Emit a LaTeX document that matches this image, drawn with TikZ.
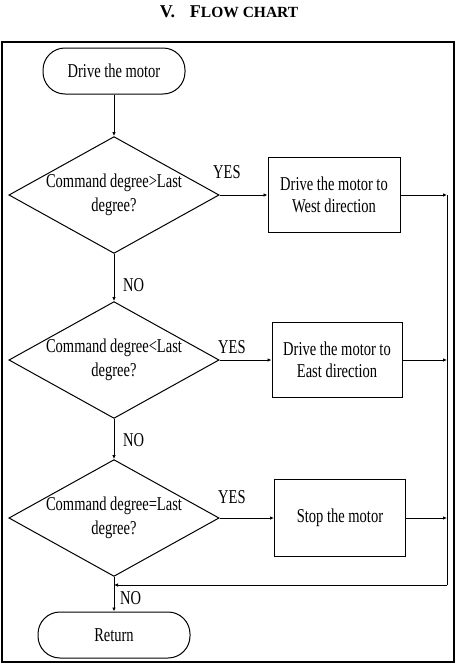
\documentclass[tikz,border=0pt]{standalone}
\usepackage{fontspec}
\setmainfont{Liberation Serif}
\newfontfamily\chartfont[FakeStretch=0.74]{Liberation Serif}
\usetikzlibrary{shapes.geometric, arrows.meta, positioning, calc}
\tikzset{
    terminal/.style={
        rectangle, draw=black, rounded corners=22pt,
        minimum width=142pt, minimum height=46pt,
        text centered,
        font=\chartfont\fontsize{19.6}{22}\selectfont,
        line width=1pt,
    },
    decision/.style={
        diamond, draw=black, aspect=1.8, inner sep=0pt,
        minimum width=210pt, minimum height=116pt,
        align=center,
        font=\chartfont\fontsize{19.6}{23.5}\selectfont,
        line width=1pt,
    },
    process/.style={
        rectangle, draw=black,
        minimum width=132pt, minimum height=75pt,
        align=center,
        font=\chartfont\fontsize{19.6}{22}\selectfont,
        line width=1pt,
    },
    answer/.style={
        anchor=west, inner sep=0pt,
        font=\chartfont\fontsize{19.6}{22}\selectfont,
    },
    arr/.style={
        -{Latex[length=4pt, width=3.5pt]}, line width=1pt
    },
    wire/.style={
        line width=1pt
    },
    frame/.style={
        line width=1.8pt
    },
}

\begin{document}
\begin{tikzpicture}[x=1pt, y=-1pt]

    \useasboundingbox (0, 0) rectangle (456, 664);

    % ── Title ──
    \node[font=\bfseries] (title) at (229, 12)
        {\fontsize{18}{20}\selectfont V.\hspace{15pt}F\fontsize{15.5}{20}\selectfont LOW CHART};

    % ── Frame ──
    \draw[frame] (2, 42) rectangle (454, 662);

    % ── Terminals ──
    \node[terminal] (start) at (114, 71) {Drive the motor};
    \node[terminal, minimum width=152pt] (return) at (114, 635) {Return};

    % ── Decisions ──
    \node[decision] (dec1) at (114, 195) {Command degree>Last\\degree?};
    \node[decision] (dec2) at (114, 360) {Command degree<Last\\degree?};
    \node[decision] (dec3) at (114, 518) {Command degree=Last\\degree?};

    % ── Actions ──
    \node[process] (west) at (334, 195) {Drive the motor to\\West direction};
    \node[process, minimum width=130pt] (east) at (337, 360) {Drive the motor to\\East direction};
    \node[process, minimum width=131pt, minimum height=77pt] (stop) at (340, 518) {Stop the motor};

    % ── Labels ──
    \node[answer] (yes1) at (213, 172) {YES};
    \node[answer] (yes2) at (218, 347) {YES};
    \node[answer] (yes3) at (218, 497) {YES};
    \node[answer] (no1)  at (123, 285) {NO};
    \node[answer] (no2)  at (123, 440) {NO};
    \node[answer] (no3)  at (120, 598) {NO};

    % ── Return bus ──
    \coordinate (bustop) at (447, 195);
    \coordinate (busbot) at (447, 585);
    \coordinate (join)   at (114, 585);

    % ── Arrows: main line ──
    \draw[arr] (start) -- (dec1);
    \draw[arr] (dec1) -- (dec2);
    \draw[arr] (dec2) -- (dec3);
    \draw[arr] (dec3) -- (return);

    % ── Arrows: YES branches ──
    \draw[arr] (dec1) -- (west);
    \draw[arr] (dec2) -- (east);
    \draw[arr] (dec3) -- (stop);

    % ── Arrows: actions -> bus -> Return ──
    \draw[arr] (west) -- (west -| bustop);
    \draw[arr] (east) -- (east -| bustop);
    \draw[arr] (stop) -- (stop -| bustop);
    \draw[wire] (bustop) -- (busbot);
    \draw[arr] (busbot) -- (join);

\end{tikzpicture}
\end{document}
